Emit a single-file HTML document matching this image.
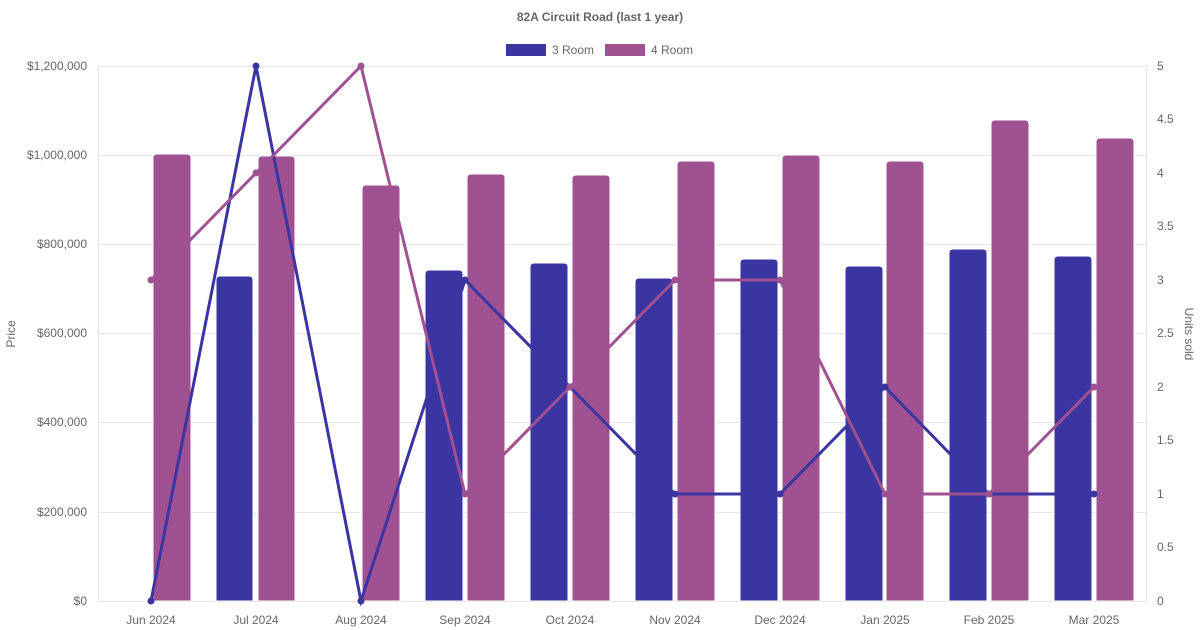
<!DOCTYPE html>
<html><head><meta charset="utf-8"><style>
body{margin:0;background:#fff}
svg{display:block;font-family:"Liberation Sans",sans-serif}
</style></head><body>
<svg width="1200" height="630" viewBox="0 0 1200 630" xmlns="http://www.w3.org/2000/svg">
<text x="600" y="21" text-anchor="middle" font-size="12" font-weight="bold" fill="#666">82A Circuit Road (last 1 year)</text>
<rect x="506" y="44" width="40" height="12" fill="#3a35a0"/>
<text x="552" y="54" font-size="12" fill="#666">3 Room</text>
<rect x="605" y="44" width="40" height="12" fill="#a05192"/>
<text x="651" y="54" font-size="12" fill="#666">4 Room</text>
<g stroke="#e5e5e5" stroke-width="1">
<line x1="98" y1="66.5" x2="1147" y2="66.5"/>
<line x1="98" y1="155.5" x2="1147" y2="155.5"/>
<line x1="98" y1="244.5" x2="1147" y2="244.5"/>
<line x1="98" y1="333.5" x2="1147" y2="333.5"/>
<line x1="98" y1="422.5" x2="1147" y2="422.5"/>
<line x1="98" y1="512.5" x2="1147" y2="512.5"/>
<line x1="98" y1="601.5" x2="1147" y2="601.5"/>
<line x1="98.5" y1="66" x2="98.5" y2="601"/>
<line x1="1146.5" y1="66" x2="1146.5" y2="601"/>
</g>
<g font-size="12" fill="#666" text-anchor="end">
<text x="87" y="70">$1,200,000</text><text x="87" y="159">$1,000,000</text>
<text x="87" y="248">$800,000</text><text x="87" y="337">$600,000</text>
<text x="87" y="426">$400,000</text><text x="87" y="516">$200,000</text>
<text x="87" y="605">$0</text>
</g>
<g font-size="12" fill="#666">
<text x="1157" y="70">5</text><text x="1157" y="123">4.5</text><text x="1157" y="177">4</text>
<text x="1157" y="230">3.5</text><text x="1157" y="284">3</text><text x="1157" y="337">2.5</text>
<text x="1157" y="391">2</text><text x="1157" y="444">1.5</text><text x="1157" y="498">1</text>
<text x="1157" y="551">0.5</text><text x="1157" y="605">0</text>
</g>
<text transform="translate(15,334) rotate(-90)" text-anchor="middle" font-size="12" fill="#666">Price</text>
<text transform="translate(1185,334) rotate(90)" text-anchor="middle" font-size="12" fill="#666">Units sold</text>
<g font-size="12" fill="#666" text-anchor="middle">
<text x="151" y="624">Jun 2024</text><text x="256" y="624">Jul 2024</text><text x="361" y="624">Aug 2024</text>
<text x="465" y="624">Sep 2024</text><text x="570" y="624">Oct 2024</text><text x="675" y="624">Nov 2024</text>
<text x="780" y="624">Dec 2024</text><text x="885" y="624">Jan 2025</text><text x="989" y="624">Feb 2025</text>
<text x="1094" y="624">Mar 2025</text>
</g>
<!-- blue bars -->
<g fill="#3a35a0" stroke="#fff" stroke-width="1">
<path d="M216,601V280q0,-4 4,-4h29q4,0 4,4V601z"/>
<path d="M425,601V274q0,-4 4,-4h30q4,0 4,4V601z"/>
<path d="M530,601V267q0,-4 4,-4h30q4,0 4,4V601z"/>
<path d="M635,601V282q0,-4 4,-4h30q4,0 4,4V601z"/>
<path d="M740,601V263q0,-4 4,-4h30q4,0 4,4V601z"/>
<path d="M845,601V270q0,-4 4,-4h30q4,0 4,4V601z"/>
<path d="M949,601V253q0,-4 4,-4h30q4,0 4,4V601z"/>
<path d="M1054,601V260q0,-4 4,-4h30q4,0 4,4V601z"/>
</g>
<!-- purple bars -->
<g fill="#a05192" stroke="#fff" stroke-width="1">
<path d="M153,601V158q0,-4 4,-4h30q4,0 4,4V601z"/>
<path d="M258,601V160q0,-4 4,-4h29q4,0 4,4V601z"/>
<path d="M362,601V189q0,-4 4,-4h30q4,0 4,4V601z"/>
<path d="M467,601V178q0,-4 4,-4h30q4,0 4,4V601z"/>
<path d="M572,601V179q0,-4 4,-4h30q4,0 4,4V601z"/>
<path d="M677,601V165q0,-4 4,-4h30q4,0 4,4V601z"/>
<path d="M782,601V159q0,-4 4,-4h30q4,0 4,4V601z"/>
<path d="M886,601V165q0,-4 4,-4h30q4,0 4,4V601z"/>
<path d="M991,601V124q0,-4 4,-4h30q4,0 4,4V601z"/>
<path d="M1096,601V142q0,-4 4,-4h30q4,0 4,4V601z"/>
</g>
<!-- blue line -->
<polyline fill="none" stroke="#3a35a0" stroke-width="3" points="151,601 256,66 361,601 465,280 570,387 675,494 780,494 885,387 989,494 1094,494"/>
<g fill="#3a35a0"><circle cx="151" cy="601" r="3.5"/><circle cx="256" cy="66" r="3.5"/><circle cx="361" cy="601" r="3.5"/><circle cx="465" cy="280" r="3.5"/><circle cx="570" cy="387" r="3.5"/><circle cx="675" cy="494" r="3.5"/><circle cx="780" cy="494" r="3.5"/><circle cx="885" cy="387" r="3.5"/><circle cx="989" cy="494" r="3.5"/><circle cx="1094" cy="494" r="3.5"/></g>
<!-- purple line -->
<polyline fill="none" stroke="#a05192" stroke-width="3" points="151,280 256,173 361,66 465,494 570,387 675,280 780,280 885,494 989,494 1094,387"/>
<g fill="#a05192"><circle cx="151" cy="280" r="3.5"/><circle cx="256" cy="173" r="3.5"/><circle cx="361" cy="66" r="3.5"/><circle cx="465" cy="494" r="3.5"/><circle cx="570" cy="387" r="3.5"/><circle cx="675" cy="280" r="3.5"/><circle cx="780" cy="280" r="3.5"/><circle cx="885" cy="494" r="3.5"/><circle cx="989" cy="494" r="3.5"/><circle cx="1094" cy="387" r="3.5"/></g>
</svg>
</body></html>
